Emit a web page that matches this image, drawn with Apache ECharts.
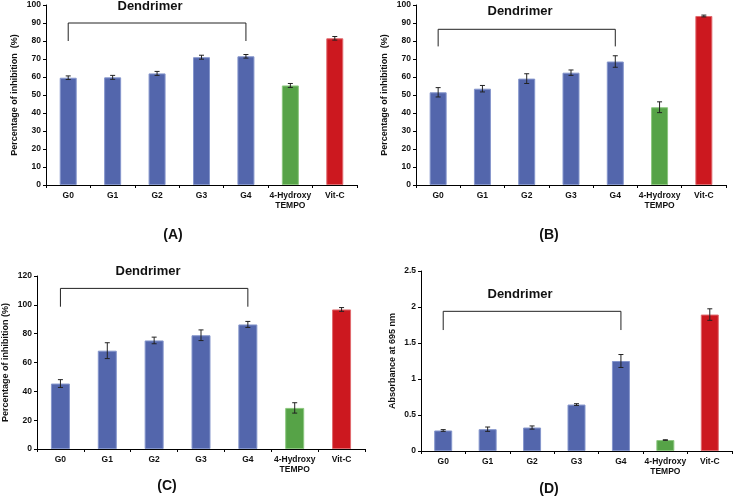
<!DOCTYPE html>
<html>
<head>
<meta charset="utf-8">
<script src="https://cdn.jsdelivr.net/npm/echarts@6.0.0/dist/echarts.min.js"></script>
<style>
html, body { margin: 0; padding: 0; background: #fff; }
#root { width: 733px; height: 497px; }
</style>
</head>
<body>
<div id="root"></div>
<script>
// categories shared by all four panels
var categories = ['G0', 'G1', 'G2', 'G3', 'G4', '4-Hydroxy\nTEMPO', 'Vit-C']
var barColors = ['#5366ac', '#5366ac', '#5366ac', '#5366ac', '#5366ac', '#56a347', '#cc181f']
var borderColors = ['#8596cc', '#8596cc', '#8596cc', '#8596cc', '#8596cc', '#8cc77f', '#e06a6e']

// (A)
var valuesA = [59.6, 59.8, 62.0, 71.0, 71.5, 55.3, 81.5]
var errorsA = [1.0, 1.1, 1.1, 1.1, 1.0, 1.1, 1.0]
// (B)
var valuesB = [51.5, 53.5, 59.1, 62.4, 68.6, 43.2, 93.9]
var errorsB = [2.6, 1.8, 2.7, 1.5, 3.2, 3.0, 0.5]
// (C)
var valuesC = [45.4, 68.2, 75.3, 78.9, 86.4, 28.5, 96.8]
var errorsC = [2.7, 5.5, 2.3, 3.7, 2.1, 3.6, 1.3]
// (D)
var valuesD = [0.285, 0.303, 0.326, 0.645, 1.25, 0.152, 1.895]
var errorsD = [0.012, 0.03, 0.022, 0.012, 0.09, 0.004, 0.08]

// "Dendrimer" bracket: [foot, top] in axis units, from G0 to G4
var bracketA = [80, 90]
var bracketB = [77, 86.5]
var bracketC = [98.7, 111.4]
var bracketD = [1.68, 1.94]

var FONT = '"Liberation Sans", Arial, sans-serif'

var panels = [
  { values: valuesA, errors: errorsA, bracket: bracketA, max: 100, interval: 10, yName: 'Percentage of inhibition  (%)', nameGap: 27,
    grid: { left: 46, top: 5, width: 311, height: 180 }, barWidth: 17,
    title: [150, 6], tag: ['(A)', 173, 235] },
  { values: valuesB, errors: errorsB, bracket: bracketB, max: 100, interval: 10, yName: 'Percentage of inhibition  (%)', nameGap: 27,
    grid: { left: 416, top: 5, width: 310, height: 180 }, barWidth: 17,
    title: [520, 11], tag: ['(B)', 549, 235] },
  { values: valuesC, errors: errorsC, bracket: bracketC, max: 120, interval: 20, yName: 'Percentage of inhibition (%)', nameGap: 27,
    grid: { left: 37, top: 276, width: 328, height: 173 }, barWidth: 19,
    title: [148, 271], tag: ['(C)', 167, 486] },
  { values: valuesD, errors: errorsD, bracket: bracketD, max: 2.5, interval: 0.5, yName: 'Absorbance at 695 nm', nameGap: 24,
    grid: { left: 421, top: 271, width: 311, height: 180 }, barWidth: 18,
    title: [520, 294], tag: ['(D)', 549, 489] }
]

var grids = [], xAxes = [], yAxes = [], series = [], graphics = []

panels.forEach(function (p, idx) {
  grids.push(Object.assign({ outerBoundsMode: 'none', containLabel: false }, p.grid))
  xAxes.push({
    type: 'category', gridIndex: idx, data: categories,
    axisLine: { lineStyle: { color: '#000', width: 1 } },
    axisTick: { show: true, length: 3, lineStyle: { color: '#000' } },
    axisLabel: { color: '#111', fontFamily: FONT, fontWeight: 'bold', fontSize: 8.5, lineHeight: 10, margin: 6, interval: 0 }
  })
  yAxes.push({
    type: 'value', gridIndex: idx, min: 0, max: p.max, interval: p.interval,
    name: p.yName, nameLocation: 'middle', nameGap: p.nameGap, nameRotate: 90,
    nameTextStyle: { color: '#111', fontFamily: FONT, fontWeight: 'bold', fontSize: 9 },
    splitLine: { show: false },
    axisLine: { show: true, lineStyle: { color: '#000', width: 1 } },
    axisTick: { show: true, length: 3, lineStyle: { color: '#000' } },
    axisLabel: { color: '#111', fontFamily: FONT, fontWeight: 'bold', fontSize: 8.5, margin: 5 }
  })
  series.push({
    type: 'bar', xAxisIndex: idx, yAxisIndex: idx, barWidth: p.barWidth,
    data: p.values.map(function (v, i) {
      return { value: v, itemStyle: { color: barColors[i], borderColor: borderColors[i], borderWidth: 1 } }
    }),
    silent: true
  })
  series.push({
    type: 'custom', xAxisIndex: idx, yAxisIndex: idx, z: 10, silent: true,
    data: p.values.map(function (v, i) { return [i, v - p.errors[i], v + p.errors[i]] }),
    renderItem: function (params, api) {
      var lo = api.coord([api.value(0), api.value(1)])
      var hi = api.coord([api.value(0), api.value(2)])
      var w = 2.5
      var st = { stroke: '#222', lineWidth: 1 }
      return {
        type: 'group',
        children: [
          { type: 'line', shape: { x1: lo[0], y1: lo[1], x2: hi[0], y2: hi[1] }, style: st },
          { type: 'line', shape: { x1: lo[0] - w, y1: lo[1], x2: lo[0] + w, y2: lo[1] }, style: st },
          { type: 'line', shape: { x1: hi[0] - w, y1: hi[1], x2: hi[0] + w, y2: hi[1] }, style: st }
        ]
      }
    }
  })
  // bracket over G0..G4
  series.push({
    type: 'line', xAxisIndex: idx, yAxisIndex: idx, symbol: 'none', silent: true, z: 5,
    lineStyle: { color: '#222', width: 1 },
    data: [[0, p.bracket[0]], [0, p.bracket[1]], [4, p.bracket[1]], [4, p.bracket[0]]]
  })
  graphics.push({
    type: 'text', x: p.title[0], y: p.title[1],
    style: { text: 'Dendrimer', font: 'bold 13px ' + FONT, fill: '#111', align: 'center', verticalAlign: 'middle' }
  })
  graphics.push({
    type: 'text', x: p.tag[1], y: p.tag[2],
    style: { text: p.tag[0], font: 'bold 14px ' + FONT, fill: '#111', align: 'center', verticalAlign: 'middle' }
  })
})

var chart = echarts.init(document.getElementById('root'), null, { renderer: 'canvas' })
chart.setOption({
  backgroundColor: '#fff',
  animation: false,
  grid: grids,
  xAxis: xAxes,
  yAxis: yAxes,
  series: series,
  graphic: graphics
})
</script>
</body>
</html>
